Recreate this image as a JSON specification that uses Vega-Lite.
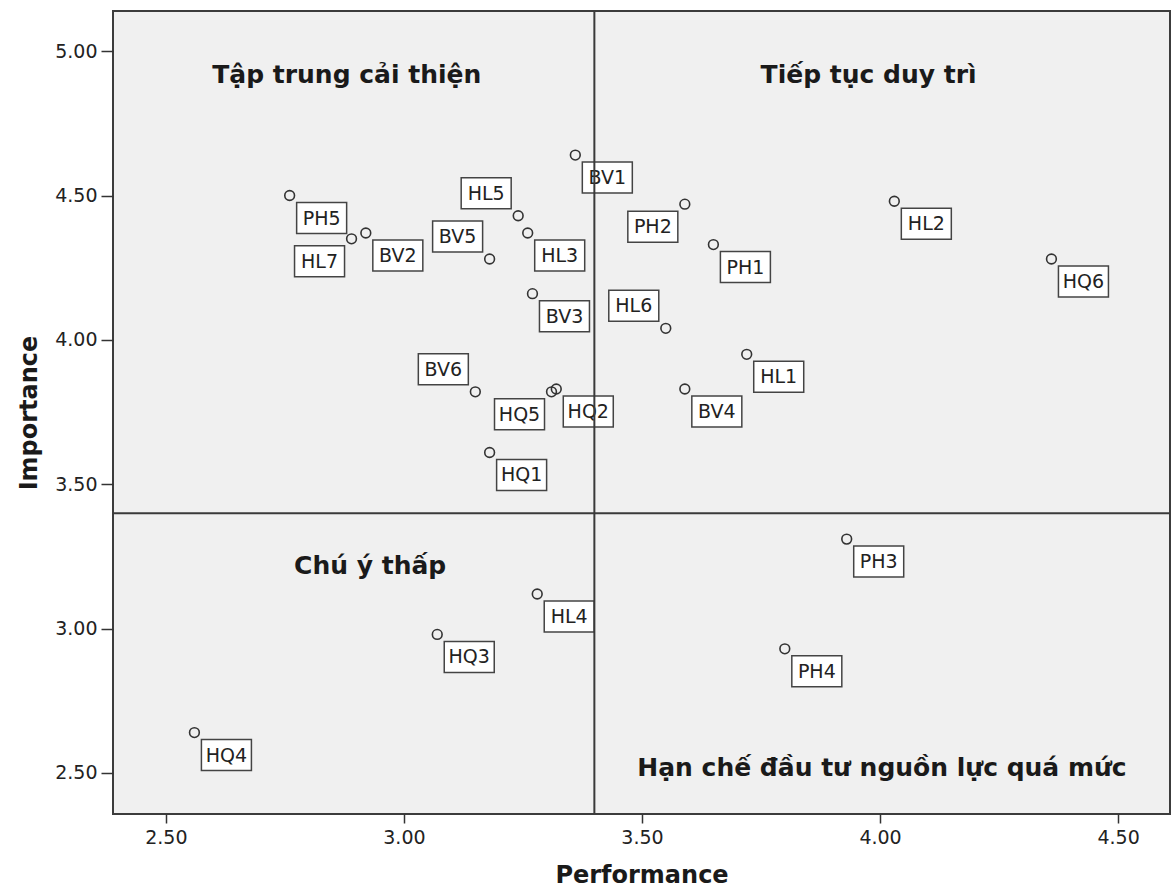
{
  "$schema": "https://vega.github.io/schema/vega-lite/v6.json",
  "width": 1057,
  "height": 803,
  "autosize": {"type": "none"},
  "padding": {"left": 113, "top": 11, "right": 3, "bottom": 78},
  "background": "white",
  "config": {
    "view": {"stroke": "#3c3c3c", "strokeWidth": 2, "fill": "#f0f0f0"},
    "font": "DejaVu Sans",
    "axis": {
      "domain": false, "grid": false, "tickWidth": 1.5, "tickColor": "#333",
      "labelFont": "DejaVu Sans", "labelFontSize": 19, "labelColor": "#222",
      "titleFont": "DejaVu Sans", "titleFontSize": 24, "titleFontWeight": "bold", "titleColor": "#1a1a1a"
    },
    "axisX": {"tickSize": 9, "labelPadding": 5, "titlePadding": 16},
    "axisY": {"tickSize": 12, "labelPadding": 4, "titlePadding": 13}
  },
  "datasets": {
    "points": [
      {"item": "PH5", "performance": 2.76, "importance": 4.50},
      {"item": "HL7", "performance": 2.89, "importance": 4.35},
      {"item": "BV2", "performance": 2.92, "importance": 4.37},
      {"item": "HL5", "performance": 3.24, "importance": 4.43},
      {"item": "HL3", "performance": 3.26, "importance": 4.37},
      {"item": "BV5", "performance": 3.18, "importance": 4.28},
      {"item": "BV3", "performance": 3.27, "importance": 4.16},
      {"item": "BV1", "performance": 3.36, "importance": 4.64},
      {"item": "PH2", "performance": 3.59, "importance": 4.47},
      {"item": "PH1", "performance": 3.65, "importance": 4.33},
      {"item": "HL6", "performance": 3.55, "importance": 4.04},
      {"item": "HL1", "performance": 3.72, "importance": 3.95},
      {"item": "BV4", "performance": 3.59, "importance": 3.83},
      {"item": "BV6", "performance": 3.15, "importance": 3.82},
      {"item": "HQ5", "performance": 3.31, "importance": 3.82},
      {"item": "HQ2", "performance": 3.32, "importance": 3.83},
      {"item": "HQ1", "performance": 3.18, "importance": 3.61},
      {"item": "HL2", "performance": 4.03, "importance": 4.48},
      {"item": "HQ6", "performance": 4.36, "importance": 4.28},
      {"item": "PH3", "performance": 3.93, "importance": 3.31},
      {"item": "PH4", "performance": 3.80, "importance": 2.93},
      {"item": "HL4", "performance": 3.28, "importance": 3.12},
      {"item": "HQ3", "performance": 3.07, "importance": 2.98},
      {"item": "HQ4", "performance": 2.56, "importance": 2.64}
    ],
    "quadrants": [
      {"label": "Tập trung cải thiện", "performance": 2.88, "importance": 4.889},
      {"label": "Tiếp tục duy trì", "performance": 3.976, "importance": 4.889},
      {"label": "Chú ý thấp", "performance": 2.929, "importance": 3.189},
      {"label": "Hạn chế đầu tư nguồn lực quá mức", "performance": 4.004, "importance": 2.49}
    ],
    "refs": [{"v": 3.4}]
  },
  "layer": [
    {
      "data": {"name": "points"},
      "transform": [{"filter": {"not": {"field": "item", "oneOf": ["HL7", "PH2", "HQ5", "HL5", "BV5", "HL6", "BV6"]}}}],
      "mark": {"type": "point", "shape": "M0.7,0.7H5.7V3.8H0.7Z", "size": 400, "filled": true, "fill": "white", "stroke": "#444", "strokeWidth": 1.5, "opacity": 1},
      "encoding": {
        "x": {"field": "performance", "type": "quantitative", "title": "Performance"},
        "y": {"field": "importance", "type": "quantitative", "title": "Importance"}
      }
    },
    {
      "data": {"name": "points"},
      "transform": [{"filter": {"not": {"field": "item", "oneOf": ["HL7", "PH2", "HQ5", "HL5", "BV5", "HL6", "BV6"]}}}],
      "mark": {"type": "text", "dx": 32, "dy": 1, "baseline": "middle", "align": "center", "font": "DejaVu Sans", "fontSize": 19, "fill": "#222", "yOffset": 22},
      "encoding": {
        "x": {"field": "performance", "type": "quantitative", "title": "Performance"},
        "y": {"field": "importance", "type": "quantitative", "title": "Importance"},
        "text": {"field": "item"}
      }
    },
    {
      "data": {"name": "points"},
      "transform": [{"filter": {"field": "item", "oneOf": ["HL7", "PH2", "HQ5"]}}],
      "mark": {"type": "point", "shape": "M-5.7,0.7H-0.7V3.8H-5.7Z", "size": 400, "filled": true, "fill": "white", "stroke": "#444", "strokeWidth": 1.5, "opacity": 1},
      "encoding": {
        "x": {"field": "performance", "type": "quantitative", "title": "Performance"},
        "y": {"field": "importance", "type": "quantitative", "title": "Importance"}
      }
    },
    {
      "data": {"name": "points"},
      "transform": [{"filter": {"field": "item", "oneOf": ["HL7", "PH2", "HQ5"]}}],
      "mark": {"type": "text", "dx": -32, "dy": 1, "baseline": "middle", "align": "center", "font": "DejaVu Sans", "fontSize": 19, "fill": "#222", "yOffset": 22},
      "encoding": {
        "x": {"field": "performance", "type": "quantitative", "title": "Performance"},
        "y": {"field": "importance", "type": "quantitative", "title": "Importance"},
        "text": {"field": "item"}
      }
    },
    {
      "data": {"name": "points"},
      "transform": [{"filter": {"field": "item", "oneOf": ["HL5", "BV5", "HL6", "BV6"]}}],
      "mark": {"type": "point", "shape": "M-5.7,-3.8H-0.7V-0.7H-5.7Z", "size": 400, "filled": true, "fill": "white", "stroke": "#444", "strokeWidth": 1.5, "opacity": 1},
      "encoding": {
        "x": {"field": "performance", "type": "quantitative", "title": "Performance"},
        "y": {"field": "importance", "type": "quantitative", "title": "Importance"}
      }
    },
    {
      "data": {"name": "points"},
      "transform": [{"filter": {"field": "item", "oneOf": ["HL5", "BV5", "HL6", "BV6"]}}],
      "mark": {"type": "text", "dx": -32, "dy": 1, "baseline": "middle", "align": "center", "font": "DejaVu Sans", "fontSize": 19, "fill": "#222", "yOffset": -23},
      "encoding": {
        "x": {"field": "performance", "type": "quantitative", "title": "Performance"},
        "y": {"field": "importance", "type": "quantitative", "title": "Importance"},
        "text": {"field": "item"}
      }
    },
    {
      "data": {"name": "points"},
      "mark": {"type": "point", "shape": "circle", "size": 95, "filled": false, "stroke": "#333", "strokeWidth": 1.6, "opacity": 1},
      "encoding": {
        "x": {
          "field": "performance", "type": "quantitative", "title": "Performance",
          "scale": {"domain": [2.389, 4.609], "nice": false, "zero": false},
          "axis": {"values": [2.5, 3, 3.5, 4, 4.5], "format": ".2f"}
        },
        "y": {
          "field": "importance", "type": "quantitative", "title": "Importance",
          "scale": {"domain": [2.358, 5.139], "nice": false, "zero": false},
          "axis": {"values": [2.5, 3, 3.5, 4, 4.5, 5], "format": ".2f"}
        }
      }
    },
    {
      "data": {"name": "refs"},
      "mark": {"type": "rule", "stroke": "#3a3a3a", "strokeWidth": 2},
      "encoding": {"x": {"field": "v", "type": "quantitative", "title": "Performance"}}
    },
    {
      "data": {"name": "refs"},
      "mark": {"type": "rule", "stroke": "#3a3a3a", "strokeWidth": 2},
      "encoding": {"y": {"field": "v", "type": "quantitative", "title": "Importance"}}
    },
    {
      "data": {"name": "quadrants"},
      "mark": {"type": "text", "align": "center", "baseline": "alphabetic", "font": "DejaVu Sans", "fontSize": 25, "fontWeight": "bold", "fill": "#1a1a1a"},
      "encoding": {
        "x": {"field": "performance", "type": "quantitative", "title": "Performance"},
        "y": {"field": "importance", "type": "quantitative", "title": "Importance"},
        "text": {"field": "label"}
      }
    }
  ]
}
